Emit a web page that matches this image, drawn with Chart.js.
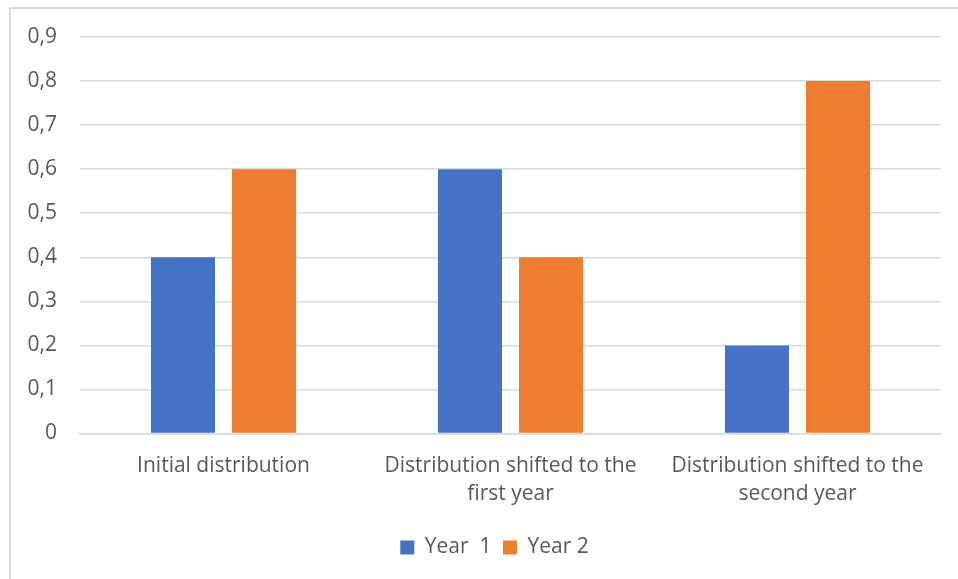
<!DOCTYPE html>
<html>
<head>
<meta charset="utf-8">
<script src="https://cdn.jsdelivr.net/npm/chart.js@4/dist/chart.umd.min.js"></script>
<style>
  html, body { margin: 0; padding: 0; background: #fff; }
  #wrap { width: 958px; height: 579px; position: relative; }
</style>
</head>
<body>
<div id="wrap"><canvas id="myChart"></canvas></div>
<script>
// categories and values
const categories = [
  ['Initial distribution'],
  ['Distribution shifted to the', 'first year'],
  ['Distribution shifted to the', 'second year']
]
const year1 = [0.4, 0.6, 0.2]
const year2 = [0.6, 0.4, 0.8]
const seriesNames = ['Year  1', 'Year 2']
const yTicks = [0, 0.1, 0.2, 0.3, 0.4, 0.5, 0.6, 0.7, 0.8, 0.9]

const textGray = '#595959'
const fontFam = '"Open Sans", Lato, sans-serif'

// light frame round the chart, like the excel one (only left + top show)
const framePlugin = {
  id: 'frame',
  beforeDraw(chart) {
    const ctx = chart.ctx
    ctx.save()
    ctx.strokeStyle = '#d9d9d9'
    ctx.lineWidth = 2
    ctx.beginPath()
    ctx.moveTo(10, 600)
    ctx.lineTo(10, 8)
    ctx.lineTo(970, 8)
    ctx.stroke()
    ctx.restore()
  },
  // legend sits a bit right of the canvas centre in the original
  afterLayout(chart) {
    chart.legend.left += 24
    chart.legend.right += 24
  }
}

const chart = document.getElementById('myChart')

let barChart = new Chart(chart, {
  type: 'bar',
  data: {
    labels: categories,
    datasets: [
      {
        label: seriesNames[0],
        data: year1,
        backgroundColor: '#4472C4',
        categoryPercentage: 0.565,
        barPercentage: 0.79
      },
      {
        label: seriesNames[1],
        data: year2,
        backgroundColor: '#ED7D31',
        categoryPercentage: 0.565,
        barPercentage: 0.79
      }
    ]
  },
  options: {
    responsive: true,
    maintainAspectRatio: false,
    animation: false,
    layout: { padding: { top: 37, right: 17, left: 0, bottom: 11 } },
    plugins: {
      tooltip: { enabled: false },
      legend: {
        position: 'bottom',
        labels: {
          color: textGray,
          font: { family: fontFam, size: 21 },
          boxWidth: 14,
          boxHeight: 14,
          padding: 11.5
        }
      }
    },
    scales: {
      y: {
        min: 0,
        max: 0.9,
        afterFit(scale) { scale.width = 80 },
        afterBuildTicks(scale) {
          scale.ticks = yTicks.map(v => ({ value: v }))
        },
        ticks: {
          color: textGray,
          font: { family: fontFam, size: 21 },
          padding: 23,
          callback: v => v === 0 ? '0' : v.toFixed(1).replace('.', ',')
        },
        grid: { color: '#d9d9d9', lineWidth: 1.5, drawTicks: false },
        border: { display: false }
      },
      x: {
        afterFit(scale) { scale.height = 92 },
        ticks: {
          color: textGray,
          font: { family: fontFam, size: 21, lineHeight: 1.333 },
          padding: 19,
          maxRotation: 0
        },
        grid: { display: false, drawTicks: false },
        border: { color: '#d9d9d9', width: 1.5 }
      }
    }
  },
  plugins: [framePlugin]
})
</script>
</body>
</html>
